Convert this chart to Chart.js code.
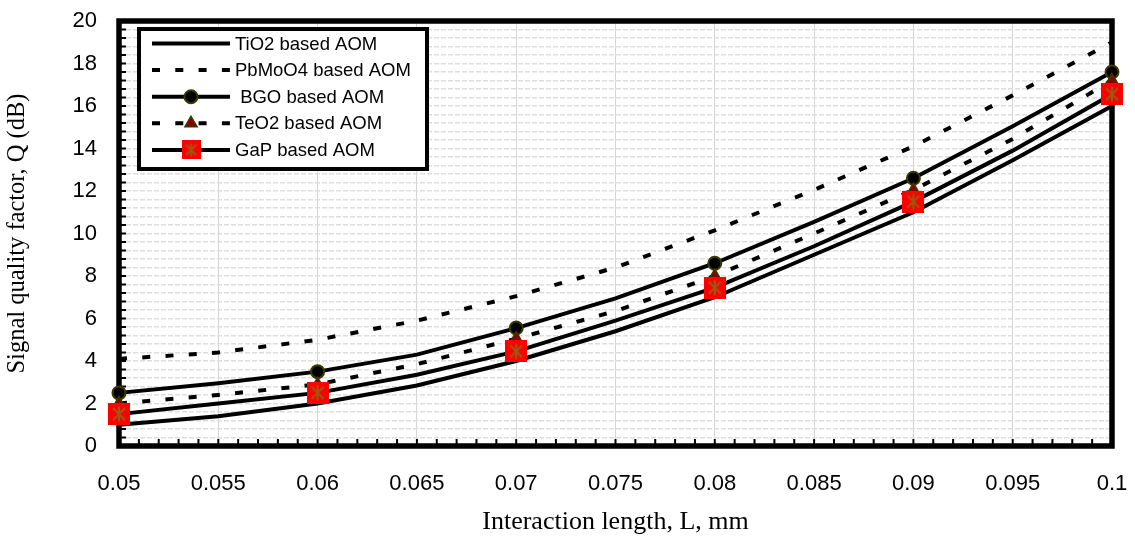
<!DOCTYPE html>
<html>
<head>
<meta charset="utf-8">
<script src="https://cdn.jsdelivr.net/npm/chart.js@4/dist/chart.umd.min.js"></script>
<style>
html, body { margin: 0; padding: 0; background: #fff; }
#wrap { width: 1135px; height: 546px; }
</style>
</head>
<body>
<div id="wrap"><canvas id="chart"></canvas></div>
<script>
// interaction length (mm) and signal quality factor Q (dB) per crystal
const lengths = [0.05, 0.055, 0.06, 0.065, 0.07, 0.075, 0.08, 0.085, 0.09, 0.095, 0.1];
const tio2   = [1.0, 1.4, 2.0, 2.85, 4.0, 5.4, 7.0, 9.0, 11.0, 13.45, 16.0];
const pbmoo4 = [4.1, 4.4, 5.0, 5.9, 7.05, 8.4, 10.15, 12.05, 14.1, 16.5, 19.0];
const bgo    = [2.5, 2.95, 3.5, 4.3, 5.55, 6.95, 8.6, 10.55, 12.6, 15.05, 17.6];
const teo2   = [2.0, 2.4, 2.9, 3.85, 5.05, 6.35, 8.0, 10.0, 12.05, 14.45, 17.2];
const gap    = [1.5, 2.0, 2.5, 3.35, 4.45, 5.9, 7.45, 9.4, 11.5, 13.9, 16.55];

const seriesNames = ['TiO2 based AOM', 'PbMoO4 based AOM', ' BGO based AOM', 'TeO2 based AOM', 'GaP based AOM'];
const xTickLabels = ['0.05', '0.055', '0.06', '0.065', '0.07', '0.075', '0.08', '0.085', '0.09', '0.095', '0.1'];
const yTickLabels = ['0', '2', '4', '6', '8', '10', '12', '14', '16', '18', '20'];

const toPoints = arr => arr.map((v, i) => ({ x: lengths[i], y: v }));
// markers only sit on 0.05, 0.06, ... 0.1
const markerRadius = r => ctx => (ctx.dataIndex % 2 === 0 ? r : 0);

function gapMarker(size) {
    const c = document.createElement('canvas');
    c.width = size; c.height = size;
    const g = c.getContext('2d');
    g.fillStyle = '#ff0000';
    g.fillRect(0, 0, size, size);
    g.strokeStyle = '#9a5a14';
    g.lineWidth = 2;
    const m = size / 2, r = size * 0.27;
    g.beginPath();
    g.moveTo(m - r, m - r); g.lineTo(m + r, m + r);
    g.moveTo(m + r, m - r); g.lineTo(m - r, m + r);
    g.moveTo(m, m - r * 1.25); g.lineTo(m, m + r * 1.25);
    g.stroke();
    return c;
}
const gapImg = gapMarker(22);
const gapLegendImg = gapMarker(19);

const dash = [8, 15.3];
const olive = '#3a3a00';

const datasets = [
    { label: seriesNames[0], data: toPoints(tio2), borderColor: '#000', borderWidth: 4, pointRadius: 0, order: 5 },
    { label: seriesNames[1], data: toPoints(pbmoo4), borderColor: '#000', borderWidth: 4, borderDash: dash, pointRadius: 0, order: 4 },
    { label: seriesNames[2], data: toPoints(bgo), borderColor: '#000', borderWidth: 4, pointStyle: 'circle',
      pointRadius: markerRadius(6.5), pointBackgroundColor: '#000', pointBorderColor: olive, pointBorderWidth: 2, order: 3 },
    { label: seriesNames[3], data: toPoints(teo2), borderColor: '#000', borderWidth: 4, borderDash: dash, pointStyle: 'triangle',
      pointRadius: markerRadius(7), pointBackgroundColor: '#8b0000', pointBorderColor: olive, pointBorderWidth: 1.5, order: 2 },
    { label: seriesNames[4], data: toPoints(gap), borderColor: '#000', borderWidth: 4, pointStyle: gapImg,
      pointRadius: markerRadius(11), order: 1 }
];
datasets.forEach(d => { d.tension = 0; d.fill = false; d.clip = false; d.borderCapStyle = 'butt'; });

// thick frame round the plot, drawn under the lines
const frame = {
    id: 'frame',
    beforeDatasetsDraw(chart) {
        const { ctx, chartArea: a, scales: { x, y } } = chart;
        ctx.save();
        ctx.strokeStyle = '#000';
        ctx.lineWidth = 2;
        // inward tick marks
        ctx.beginPath();
        y.ticks.forEach(t => {
            const py = y.getPixelForValue(t.value);
            ctx.moveTo(a.left, py); ctx.lineTo(a.left + 7, py);
        });
        for (let v = 0.05; v <= 0.1 + 1e-9; v += 0.001) {
            const px = x.getPixelForValue(v);
            ctx.moveTo(px, a.bottom); ctx.lineTo(px, a.bottom - 7);
        }
        ctx.stroke();
        ctx.lineWidth = 5.5;
        ctx.strokeRect(a.left, a.top, a.right - a.left, a.bottom - a.top);
        ctx.restore();
    }
};

// boxed legend in the top left corner
const boxLegend = {
    id: 'boxLegend',
    afterDraw(chart) {
        const ctx = chart.ctx;
        const left = 139, top = 29, w = 288, h = 140;
        const rowTop = 43.5, rowGap = 26.6;
        const x0 = 152, x1 = 230, mx = 191;
        ctx.save();
        ctx.fillStyle = '#fff';
        ctx.fillRect(left, top, w, h);
        ctx.strokeStyle = '#000';
        ctx.lineWidth = 4;
        ctx.strokeRect(left, top, w, h);
        chart.data.datasets.forEach((d, i) => {
            const yy = rowTop + i * rowGap;
            ctx.beginPath();
            ctx.setLineDash(d.borderDash || []);
            ctx.lineWidth = 4;
            ctx.strokeStyle = '#000';
            ctx.moveTo(x0, yy); ctx.lineTo(x1, yy);
            ctx.stroke();
            ctx.setLineDash([]);
            if (d.pointStyle) {
                const style = d.pointStyle === gapImg ? gapLegendImg : d.pointStyle;
                ctx.fillStyle = d.pointBackgroundColor || '#000';
                ctx.strokeStyle = d.pointBorderColor || '#000';
                ctx.lineWidth = d.pointBorderWidth || 1;
                Chart.helpers.drawPoint(ctx, { pointStyle: style, radius: d.pointStyle === 'triangle' ? 7 : 6.5, rotation: 0, borderWidth: ctx.lineWidth }, mx, yy);
            }
            ctx.fillStyle = '#000';
            ctx.font = '18.5px "Liberation Sans", Arial, sans-serif';
            ctx.textBaseline = 'middle';
            ctx.textAlign = 'left';
            ctx.fillText(d.label, 235, yy + 1);
        });
        ctx.restore();
    }
};

const ctx = document.getElementById('chart').getContext('2d');
const chart = new Chart(ctx, {
    type: 'line',
    data: { datasets: datasets },
    plugins: [frame, boxLegend],
    options: {
        responsive: true,
        maintainAspectRatio: false,
        animation: false,
        events: [],
        layout: { padding: { top: 21, right: 23, left: 0, bottom: 0 } },
        plugins: { legend: { display: false }, tooltip: { enabled: false } },
        scales: {
            x: {
                type: 'linear',
                min: 0.05,
                max: 0.1,
                afterFit: s => { s.height = 100; s.paddingLeft = 0; s.paddingRight = 0; },
                ticks: {
                    stepSize: 0.005,
                    autoSkip: false,
                    maxRotation: 0,
                    padding: 25,
                    color: '#000',
                    font: { family: '"Liberation Sans", Arial, sans-serif', size: 22 },
                    callback: (v, i) => xTickLabels[i]
                },
                grid: { color: '#d4d4d4', lineWidth: 1, drawTicks: false },
                border: { display: false },
                title: {
                    display: true,
                    text: 'Interaction length, L, mm',
                    color: '#000',
                    font: { family: '"Liberation Serif", "Times New Roman", serif', size: 26 },
                    padding: { top: 0, bottom: 8 }
                }
            },
            y: {
                min: 0,
                max: 20,
                afterFit: s => { s.width = 119; s.paddingTop = 0; s.paddingBottom = 0; },
                ticks: {
                    stepSize: 0.4,
                    autoSkip: false,
                    padding: 22,
                    color: '#000',
                    font: { family: '"Liberation Sans", Arial, sans-serif', size: 22 },
                    callback: (v, i) => (i % 5 === 0 ? yTickLabels[i / 5] : '')
                },
                grid: { color: '#dedede', lineWidth: 1.5, drawTicks: false },
                border: { display: false, dash: [5, 2] },
                title: {
                    display: true,
                    text: 'Signal quality factor, Q (dB)',
                    color: '#000',
                    font: { family: '"Liberation Serif", "Times New Roman", serif', size: 24.5 },
                    padding: { top: 3, bottom: 0 }
                }
            }
        }
    }
});
</script>
</body>
</html>
